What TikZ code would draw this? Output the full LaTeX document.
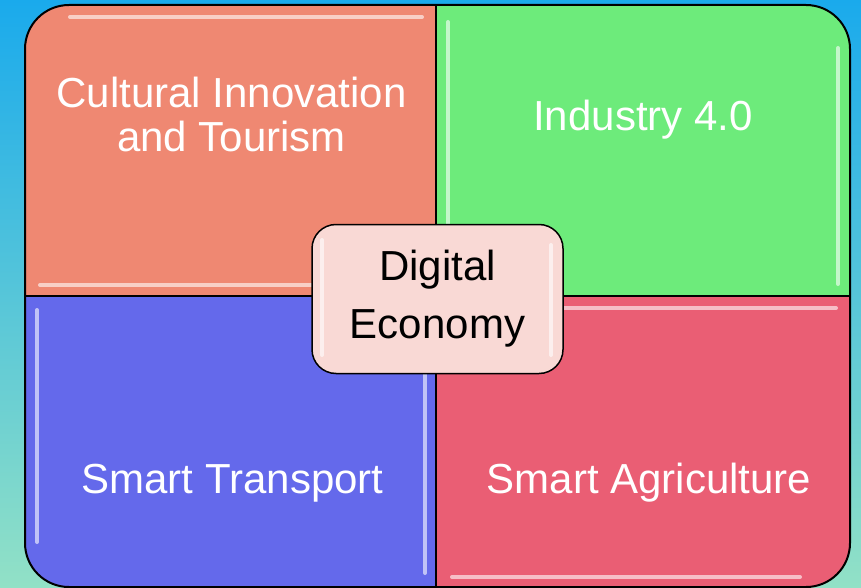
\documentclass[tikz,border=0pt]{standalone}
\usepackage{fontspec}
\setmainfont{Liberation Sans}
\usetikzlibrary{positioning}
\definecolor{bgtop}{RGB}{26,170,236}
\definecolor{bgmid}{RGB}{72,195,218}
\definecolor{bgbot}{RGB}{146,225,198}
\definecolor{cultcol}{RGB}{239,136,114}
\definecolor{indcol}{RGB}{109,235,123}
\definecolor{transcol}{RGB}{100,105,235}
\definecolor{agricol}{RGB}{234,94,116}
\definecolor{digcol}{RGB}{249,217,213}
\begin{document}
\begin{tikzpicture}[x=1pt,y=-1pt,
  quadtext/.style={text=white,font=\fontsize{42}{44}\selectfont,align=center,inner sep=0pt},
  gloss/.style={draw=white,line width=4pt,line cap=round,opacity=0.6}]
\shade[top color=bgtop,middle color=bgmid,bottom color=bgbot] (0,0) rectangle (861,588);
\useasboundingbox (0,0) rectangle (861,588);
\coordinate (NW) at (25,5);
\coordinate (SE) at (850,587);
\coordinate (M) at (436,296);
% four fields
\begin{scope}
\clip[rounded corners=44pt] (NW) rectangle (SE);
\fill[cultcol] (NW) rectangle (M);
\fill[indcol] (M |- NW) rectangle (M -| SE);
\fill[transcol] (M -| NW) rectangle (M |- SE);
\fill[agricol] (M) rectangle (SE);
% glossy edges
\draw[gloss] (70,17) -- (422,17);
\draw[gloss] (40,285) -- (422,285);
\draw[gloss] (448,22) -- (448,284);
\draw[gloss] (838,48) -- (838,284);
\draw[gloss] (37,310) -- (37,542);
\draw[gloss] (425,310) -- (425,573);
\draw[gloss] (452,308) -- (836,308);
\draw[gloss] (452,577) -- (800,577);
\end{scope}
\draw[line width=1.5pt] (M |- NW) -- (M |- SE);
\draw[line width=1.5pt] (M -| NW) -- (M -| SE);
\draw[line width=2pt,rounded corners=44pt] (NW) rectangle (SE);
% labels
\node[quadtext,anchor=base] (cult) at (231.5,152) {Cultural Innovation\\and Tourism};
\node[quadtext,anchor=base] (ind) at (643,131) {Industry 4.0};
\node[quadtext,anchor=base] (trans) at (232.5,493) {Smart Transport};
\node[quadtext,anchor=base] (agri) at (649,493) {Smart Agriculture};
% centre
\node[draw,line width=1.5pt,fill=digcol,rounded corners=24pt,minimum width=251pt,minimum height=149pt,
  align=center,font=\fontsize{42}{58}\selectfont] (digital) at (437.5,299) {Digital\\Economy};
\draw[gloss] (322,240) -- (322,355);
\draw[gloss] (551,245) -- (551,355);
\end{tikzpicture}
\end{document}
